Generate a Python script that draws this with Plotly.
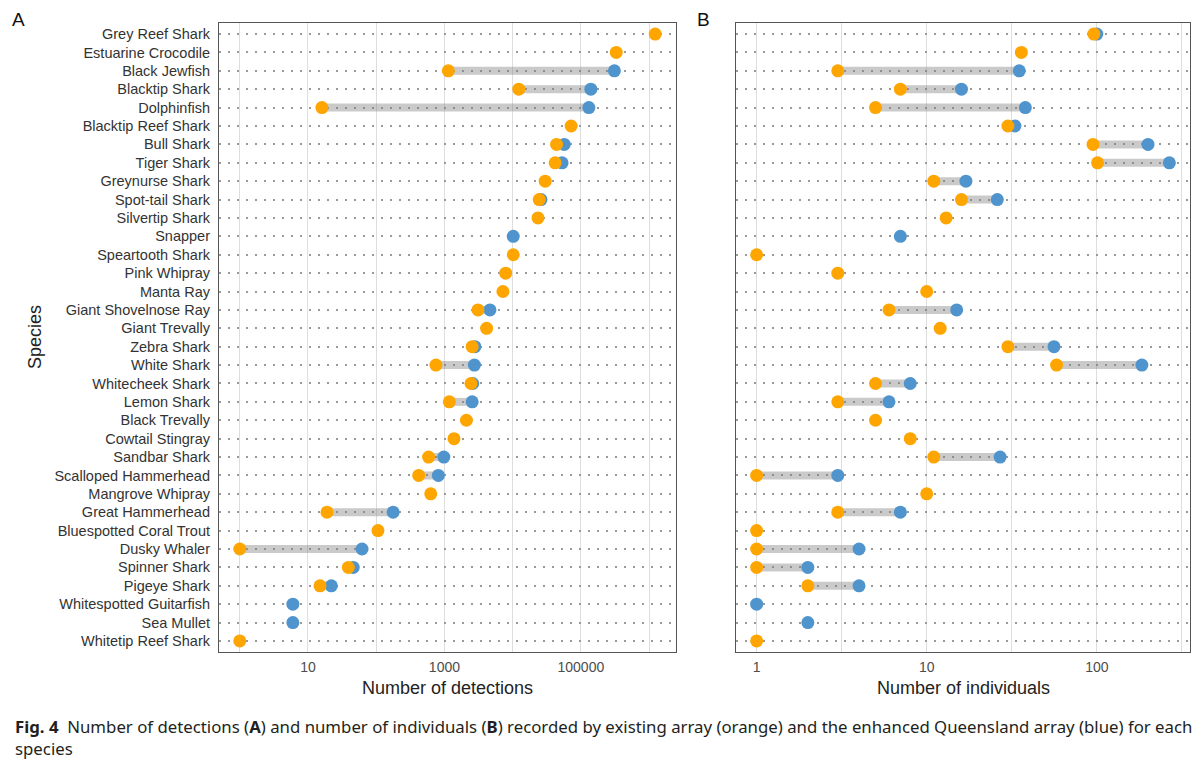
import numpy as np
import plotly.graph_objects as go

# species, top to bottom
species = ["Grey Reef Shark", "Estuarine Crocodile", "Black Jewfish", "Blacktip Shark",
           "Dolphinfish", "Blacktip Reef Shark", "Bull Shark", "Tiger Shark",
           "Greynurse Shark", "Spot-tail Shark", "Silvertip Shark", "Snapper",
           "Speartooth Shark", "Pink Whipray", "Manta Ray", "Giant Shovelnose Ray",
           "Giant Trevally", "Zebra Shark", "White Shark", "Whitecheek Shark",
           "Lemon Shark", "Black Trevally", "Cowtail Stingray", "Sandbar Shark",
           "Scalloped Hammerhead", "Mangrove Whipray", "Great Hammerhead",
           "Bluespotted Coral Trout", "Dusky Whaler", "Spinner Shark", "Pigeye Shark",
           "Whitespotted Guitarfish", "Sea Mullet", "Whitetip Reef Shark"]

# number of detections (panel A)
det_existing = [1230000, 330000, 1140, 12300, 16, 72000, 44000, 42000,
                30000, 24500, 23500, None, 10200, 7900, 7200, 3100,
                4150, 2550, 750, 2450, 1180, 2100, 1380, 585,
                420, 630, 19, 106, 1, 39, 15, None, None, 1]
det_enhanced = [None, None, 310000, 140000, 131000, None, 57000, 53000,
                None, 26000, None, 10200, None, None, None, 4650,
                None, 2800, 2750, 2600, 2550, None, None, 980,
                815, None, 177, None, 62, 46, 22, 6, 6, None]

# number of individuals (panel B)
ind_existing = [96, 36, 3, 7, 5, 30, 95, 101,
                11, 16, 13, None, 1, 3, 10, 6,
                12, 30, 58, 5, 3, 5, 8, 11,
                1, 10, 3, 1, 1, 1, 2, None, None, 1]
ind_enhanced = [100, None, 35, 16, 38, 33, 200, 267,
                17, 26, None, 7, None, None, None, 15,
                None, 56, 184, 8, 6, None, None, 27,
                3, None, 7, None, 4, 2, 4, 1, 2, None]

ORANGE = "#FFA500"
BLUE = "#4F94CD"
SEG = "rgba(128,128,128,0.42)"

# page body has an 8px margin, so the figure is a bit smaller than the window
OFF = 8
W, H = 1200 - 2 * OFF, 769 - 2 * OFF


def px(x):
    return (x - OFF) / W


def py(y):
    return 1 - (y - OFF) / H


def log_range(a, b):
    vals = [v for v in a + b if v is not None]
    lo, hi = np.log10(min(vals)), np.log10(max(vals))
    pad = 0.05 * (hi - lo)
    return [lo - pad, hi + pad]


def add_panel(fig, existing, enhanced, xref, yref):
    sx, sy = [], []
    for sp, o, b in zip(species, existing, enhanced):
        if o is not None and b is not None:
            sx += [o, b, None]
            sy += [sp, sp, None]
    fig.add_trace(go.Scatter(x=sx, y=sy, mode="lines", xaxis=xref, yaxis=yref,
                             line=dict(color=SEG, width=8), hoverinfo="skip",
                             showlegend=False))
    fig.add_trace(go.Scatter(x=enhanced, y=species, mode="markers", xaxis=xref, yaxis=yref,
                             marker=dict(color=BLUE, size=13), name="Enhanced Queensland array",
                             showlegend=False))
    fig.add_trace(go.Scatter(x=existing, y=species, mode="markers", xaxis=xref, yaxis=yref,
                             marker=dict(color=ORANGE, size=13), name="Existing array",
                             showlegend=False))


fig = go.Figure()
add_panel(fig, det_existing, det_enhanced, "x", "y")
add_panel(fig, ind_existing, ind_enhanced, "x2", "y2")

ydom = [py(652), py(23)]
frame = dict(showline=True, mirror=True, linecolor="#555555", linewidth=1.2,
             zeroline=False, ticks="")
xgrid = dict(showgrid=True, gridcolor="#dedede", gridwidth=1)
ygrid = dict(showgrid=True, gridcolor="#999999", gridwidth=1.5, griddash="1.5px,7.5px")
tickfont = dict(family="Liberation Sans, Arial", size=14, color="#4d4d4d")
yrange = [len(species) - 0.4, -0.6]

fig.update_layout(
    width=W, height=H,
    margin=dict(l=0, r=0, t=0, b=0),
    paper_bgcolor="white", plot_bgcolor="white",
    font=dict(family="Liberation Sans, Arial", color="#222222"),
    xaxis=dict(domain=[px(219), px(676)], anchor="y", type="log",
               range=log_range(det_existing, det_enhanced),
               tickvals=[1, 10, 100, 1000, 10000, 100000, 1000000],
               ticktext=["", "10", "", "1000", "", "100000", ""],
               tickfont=tickfont, ticklabelstandoff=2, **frame, **xgrid),
    yaxis=dict(domain=ydom, anchor="x", type="category", categoryorder="array",
               categoryarray=species, range=yrange,
               tickfont=dict(family="Liberation Sans, Arial", size=14.5, color="#333333"),
               ticklabelstandoff=5, **frame, **ygrid),
    xaxis2=dict(domain=[px(736), px(1190)], anchor="y2", type="log",
                range=log_range(ind_existing, ind_enhanced),
                tickvals=[1, 10 ** 0.5, 10, 10 ** 1.5, 100, 10 ** 2.5],
                ticktext=["1", "", "10", "", "100", ""],
                tickfont=tickfont, ticklabelstandoff=2, **frame, **xgrid),
    yaxis2=dict(domain=ydom, anchor="x2", type="category", categoryorder="array",
                categoryarray=species, range=yrange, showticklabels=False,
                **frame, **ygrid),
)

caption = ("<b>Fig. 4</b>  Number of detections (<b>A</b>) and number of individuals (<b>B</b>) "
           "recorded by existing array (orange) and the enhanced Queensland array (blue) for each"
           "<br>species")
ann = [
    dict(text="A", x=px(18), y=py(8), font=dict(size=19, color="#111111"),
         xanchor="center", yanchor="top", borderpad=0),
    dict(text="B", x=px(703), y=py(8), font=dict(size=19, color="#111111"),
         xanchor="center", yanchor="top", borderpad=0),
    dict(text="Species", x=px(35), y=py(337), textangle=-90,
         font=dict(size=18, color="#222222"), xanchor="center", yanchor="middle"),
    dict(text="Number of detections", x=px(447), y=py(688),
         font=dict(size=18, color="#222222"), xanchor="center", yanchor="middle"),
    dict(text="Number of individuals", x=px(963), y=py(688),
         font=dict(size=18, color="#222222"), xanchor="center", yanchor="middle"),
    dict(text=caption, x=px(14), y=py(761), xanchor="left", yanchor="bottom", align="left",
         borderpad=0, font=dict(family="Noto Sans", size=16.8, color="#231f20")),
]
for a in ann:
    a.update(xref="paper", yref="paper", showarrow=False)
fig.update_layout(annotations=ann)

fig.write_html("out.html")
